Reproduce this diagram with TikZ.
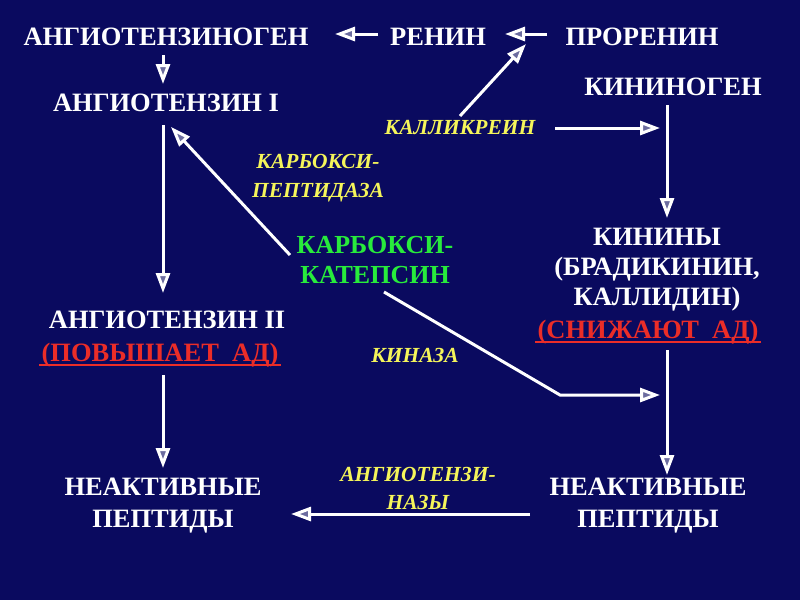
\documentclass[tikz,border=0pt]{standalone}
\usepackage{fontspec}
\setmainfont{Liberation Serif}
\usetikzlibrary{arrows.meta}
\definecolor{bg}{RGB}{10,10,95}
\definecolor{ylw}{RGB}{245,245,90}
\definecolor{grn}{RGB}{40,235,60}
\definecolor{rd}{RGB}{235,45,40}
\tikzset{
  wtext/.style={text=white, font=\bfseries\fontsize{26.5}{30}\selectfont, align=center, inner sep=0pt},
  ytext/.style={text=ylw, font=\bfseries\itshape\fontsize{21.5}{29}\selectfont, align=center, inner sep=0pt},
  gtext/.style={text=grn, font=\bfseries\fontsize{26}{30}\selectfont, align=center, inner sep=0pt},
  rtext/.style={text=rd, font=\bfseries\fontsize{26.5}{30}\selectfont, align=center, inner sep=0pt},
  uline/.style={draw=rd, line width=2pt},
  conn/.style={draw=white, line width=3pt, -{Triangle[width=14pt,length=20pt,line width=3pt,fill=white!40!bg]}}
}
\begin{document}
\begin{tikzpicture}[x=1pt,y=-1pt]
\fill[bg] (0,0) rectangle (800,600);
\useasboundingbox (0,0) rectangle (800,600);
% nodes
\node[wtext] (agen) at (166,37) {АНГИОТЕНЗИНОГЕН};
\node[wtext] (renin) at (438,37) {РЕНИН};
\node[wtext] (prorenin) at (642,37) {ПРОРЕНИН};
\node[wtext] (ang1) at (166,103) {АНГИОТЕНЗИН I};
\node[wtext] (kininogen) at (673,87) {КИНИНОГЕН};
\node[ytext] (kallikrein) at (460,128) {КАЛЛИКРЕИН};
\node[ytext] (cpept) at (318,178) {КАРБОКСИ-\\ПЕПТИДАЗА};
\node[gtext] (ccat) at (375,260) {КАРБОКСИ-\\КАТЕПСИН};
\node[wtext] (kinins) at (657,270) {КИНИНЫ\\(БРАДИКИНИН,\\КАЛЛИДИН)};
\node[rtext] (kinred) at (648,332) {(СНИЖАЮТ\ \ АД)};
\node[wtext] (ang2) at (167,320) {АНГИОТЕНЗИН II};
\node[rtext] (ang2red) at (160,355) {(ПОВЫШАЕТ\ \ АД)};
\node[ytext] (kinase) at (415,355) {КИНАЗА};
\node[wtext, font=\bfseries\fontsize{26.5}{32}\selectfont] (inact1) at (163,506) {НЕАКТИВНЫЕ\\ПЕПТИДЫ};
\node[wtext, font=\bfseries\fontsize{26.5}{32}\selectfont] (inact2) at (648,506) {НЕАКТИВНЫЕ\\ПЕПТИДЫ};
\node[ytext, font=\bfseries\itshape\fontsize{21.5}{28}\selectfont] (angase) at (418,488) {АНГИОТЕНЗИ-\\НАЗЫ};
% underlines
\draw[uline] ([xshift=-2pt,yshift=-4pt]ang2red.base west) -- ([xshift=2pt,yshift=-4pt]ang2red.base east);
\draw[uline] ([xshift=-2pt,yshift=-4pt]kinred.base west) -- ([xshift=2pt,yshift=-4pt]kinred.base east);
% connector end points
\coordinate (c1a) at (378,34);  \coordinate (c1b) at (335,34);
\coordinate (c2a) at (547,34);  \coordinate (c2b) at (505,34);
\coordinate (c3a) at (163,55);  \coordinate (c3b) at (163,84);
\coordinate (c4a) at (460,116); \coordinate (c4b) at (526,44);
\coordinate (c5a) at (555,128); \coordinate (c5b) at (660,128);
\coordinate (c6a) at (667,105); \coordinate (c6b) at (667,218);
\coordinate (c7a) at (163,125); \coordinate (c7b) at (163,293);
\coordinate (c8a) at (290,255); \coordinate (c8b) at (171,127);
\coordinate (c9a) at (384,292); \coordinate (c9m) at (560,395); \coordinate (c9b) at (660,395);
\coordinate (c10a) at (163,375); \coordinate (c10b) at (163,468);
\coordinate (c11a) at (667,350); \coordinate (c11b) at (667,475);
\coordinate (c12a) at (530,514); \coordinate (c12b) at (291,514);
% connectors
\draw[conn] (c1a) -- (c1b);
\draw[conn] (c2a) -- (c2b);
\draw[conn] (c3a) -- (c3b);
\draw[conn] (c4a) -- (c4b);
\draw[conn] (c5a) -- (c5b);
\draw[conn] (c6a) -- (c6b);
\draw[conn] (c7a) -- (c7b);
\draw[conn] (c8a) -- (c8b);
\draw[conn] (c9a) -- (c9m) -- (c9b);
\draw[conn] (c10a) -- (c10b);
\draw[conn] (c11a) -- (c11b);
\draw[conn] (c12a) -- (c12b);
\end{tikzpicture}
\end{document}
